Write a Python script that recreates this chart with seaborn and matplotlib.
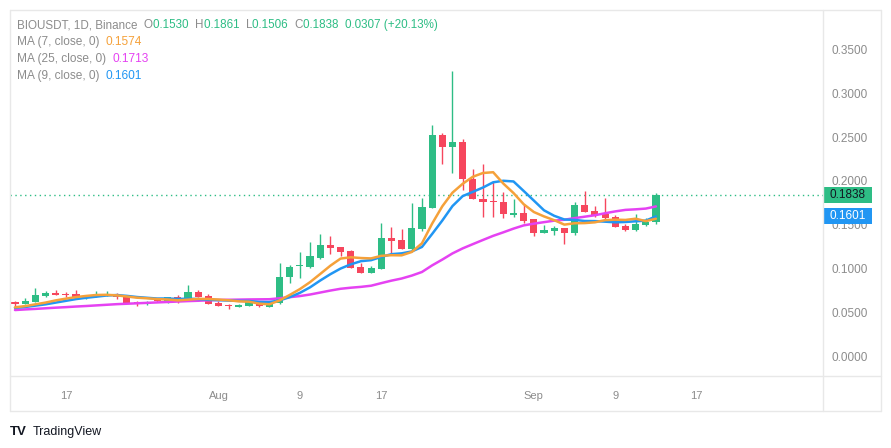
import numpy as np
import pandas as pd
import seaborn as sns
import matplotlib.pyplot as plt
import matplotlib.transforms as mtransforms
from matplotlib.lines import Line2D
from matplotlib.patches import Rectangle

# daily candles
dates = pd.date_range("2025-07-12", periods=64, freq="D")
opens = [0.0616, 0.0597, 0.0620, 0.0685, 0.0719, 0.0711, 0.0711, 0.0670, 0.0685, 0.0697,
         0.0711, 0.0685, 0.0616, 0.0597, 0.0640, 0.0609, 0.0670, 0.0639, 0.0731, 0.0685,
         0.0609, 0.0586, 0.0563, 0.0575, 0.0613, 0.0563, 0.0609, 0.0898, 0.1024, 0.1012,
         0.1115, 0.1267, 0.1244, 0.1199, 0.1016, 0.0951, 0.0997, 0.1347, 0.1324, 0.1225,
         0.1450, 0.1693, 0.2523, 0.2389, 0.2443, 0.2021, 0.1789, 0.1773, 0.1758, 0.1613,
         0.1632, 0.1560, 0.1400, 0.1430, 0.1461, 0.1408, 0.1724, 0.1655, 0.1621, 0.1587,
         0.1484, 0.1438, 0.1499, 0.1530]
highs = [0.0628, 0.0658, 0.0776, 0.0746, 0.0753, 0.0735, 0.0753, 0.0700, 0.0742, 0.0742,
         0.0720, 0.0690, 0.0628, 0.0625, 0.0655, 0.0673, 0.0696, 0.0810, 0.0753, 0.0708,
         0.0632, 0.0590, 0.0597, 0.0613, 0.0628, 0.0624, 0.1062, 0.1035, 0.1187, 0.1301,
         0.1393, 0.1370, 0.1250, 0.1210, 0.1058, 0.1027, 0.1522, 0.1473, 0.1450, 0.1745,
         0.1804, 0.2637, 0.2549, 0.3253, 0.2477, 0.2138, 0.2192, 0.1990, 0.1868, 0.1792,
         0.1732, 0.1565, 0.1495, 0.1484, 0.1465, 0.1754, 0.1884, 0.1712, 0.1804, 0.1606,
         0.1507, 0.1621, 0.1572, 0.1861]
lows = [0.0575, 0.0594, 0.0620, 0.0670, 0.0700, 0.0677, 0.0670, 0.0654, 0.0677, 0.0690,
        0.0647, 0.0601, 0.0575, 0.0586, 0.0615, 0.0609, 0.0609, 0.0639, 0.0677, 0.0594,
        0.0575, 0.0540, 0.0563, 0.0575, 0.0563, 0.0563, 0.0594, 0.0837, 0.0894, 0.1005,
        0.1107, 0.1168, 0.1145, 0.1008, 0.0951, 0.0951, 0.0997, 0.1172, 0.1225, 0.1210,
        0.1430, 0.1693, 0.2195, 0.2093, 0.1895, 0.1789, 0.1583, 0.1590, 0.1579, 0.1583,
        0.1515, 0.1366, 0.1400, 0.1385, 0.1282, 0.1385, 0.1647, 0.1590, 0.1541, 0.1476,
        0.1427, 0.1427, 0.1484, 0.1506]
closes = [0.0594, 0.0628, 0.0696, 0.0723, 0.0700, 0.0700, 0.0670, 0.0685, 0.0704, 0.0711,
          0.0677, 0.0609, 0.0605, 0.0620, 0.0625, 0.0673, 0.0639, 0.0731, 0.0677, 0.0594,
          0.0575, 0.0567, 0.0586, 0.0613, 0.0575, 0.0624, 0.0902, 0.1012, 0.1035, 0.1142,
          0.1267, 0.1237, 0.1191, 0.1008, 0.0951, 0.1005, 0.1347, 0.1317, 0.1225, 0.1461,
          0.1701, 0.2523, 0.2389, 0.2438, 0.2024, 0.1789, 0.1762, 0.1762, 0.1617, 0.1632,
          0.1545, 0.1400, 0.1438, 0.1461, 0.1408, 0.1724, 0.1647, 0.1606, 0.1575, 0.1476,
          0.1438, 0.1507, 0.1531, 0.1838]

# MA values at the start of the window (earlier closes are off-screen)
ma7_lead = [0.0556, 0.0570, 0.0590, 0.0610, 0.0635, 0.0655]
ma9_lead = [0.0550, 0.0560, 0.0575, 0.0590, 0.0610, 0.0630, 0.0650, 0.0665]
ma25_lead = [0.0525, 0.0532, 0.0538, 0.0545, 0.0552, 0.0558, 0.0565, 0.0571, 0.0578, 0.0585,
             0.0592, 0.0597, 0.0602, 0.0607, 0.0612, 0.0617, 0.0622, 0.0627, 0.0631, 0.0636,
             0.0640, 0.0642, 0.0644, 0.0646]

tick_dates = pd.to_datetime(["2025-07-17", "2025-08-01", "2025-08-09", "2025-08-17",
                             "2025-09-01", "2025-09-09", "2025-09-17"])
tick_labels = ["17", "Aug", "9", "17", "Sep", "9", "17"]
price_ticks = [0.0, 0.05, 0.10, 0.15, 0.20, 0.25, 0.30, 0.35]

symbol = "BIOUSDT, 1D, Binance"
ohlc_fields = [("O", "0.1530"), ("H", "0.1861"), ("L", "0.1506"), ("C", "0.1838")]
change = "0.0307 (+20.13%)"
ma_names = ["MA (7, close, 0)", "MA (25, close, 0)", "MA (9, close, 0)"]
ma_values = ["0.1574", "0.1713", "0.1601"]

UP = "#2ebd85"
DOWN = "#f6465d"
ORANGE = "#f5a13a"
PINK = "#e542f2"
BLUE = "#2196f3"
GREY = "#8c8c8c"
FRAME = "#e8e8e8"

df = pd.DataFrame({"date": dates, "open": opens, "high": highs, "low": lows, "close": closes})


def moving_avg(n, lead):
    ma = df["close"].rolling(n).mean()
    ma.iloc[:len(lead)] = lead
    return ma


df["ma7"] = moving_avg(7, ma7_lead)
df["ma9"] = moving_avg(9, ma9_lead)
df["ma25"] = moving_avg(25, ma25_lead)

sns.set_theme(style="white")
plt.rcParams["font.family"] = ["Liberation Sans", "DejaVu Sans"]

W, H = 891, 448
fig = plt.figure(figsize=(W / 100, H / 100), dpi=100)
fig.patch.set_facecolor("white")
ax = fig.add_axes([10 / W, 1 - 376 / H, 813 / W, 366 / H])
ax.set_facecolor("white")

# candles
up = df["close"] >= df["open"]
col = np.where(up, UP, DOWN)
ax.vlines(df["date"], df["low"], df["high"], colors=col, lw=1, zorder=2)
body_lo = np.minimum(df["open"], df["close"])
body_h = np.maximum((df["close"] - df["open"]).abs(), 0.0012)
ax.bar(df["date"], body_h, bottom=body_lo, width=0.7, color=col, lw=0, zorder=3)

# moving averages
for key, c in [("ma25", PINK), ("ma9", BLUE), ("ma7", ORANGE)]:
    sns.lineplot(data=df, x="date", y=key, color=c, lw=1.8, ax=ax, zorder=4)

ax.axhline(closes[-1], color=UP, ls=(0, (1, 2.5)), lw=1, zorder=1)

ax.set_xlim(dates[0] - pd.Timedelta(days=0.49), dates[0] + pd.Timedelta(days=79.42))
ax.set_ylim(-0.0228, 0.395)
ax.set_xlabel("")
ax.set_ylabel("")
ax.set_xticks(tick_dates)
ax.set_xticklabels(tick_labels)
ax.yaxis.tick_right()
ax.set_yticks(price_ticks)
ax.set_yticklabels([f"{v:.4f}" for v in price_ticks])
ax.tick_params(axis="x", length=0, pad=11, labelsize=8, labelcolor=GREY)
ax.tick_params(axis="y", length=0, pad=6, labelsize=8.5, labelcolor=GREY)
for s in ax.spines.values():
    s.set_visible(False)
ax.grid(False)

# price tags on the right scale
blend = mtransforms.blended_transform_factory(ax.transAxes, ax.transData)
bw = 48 / 813
bh = 16.5 / 366 * (0.395 + 0.0228)
for val, txt, fc, tc in [(closes[-1], "0.1838", UP, "#131722"), (0.1601, "0.1601", BLUE, "white")]:
    ax.add_patch(Rectangle((1.0012, val - bh / 2), bw, bh, transform=blend, color=fc,
                           clip_on=False, zorder=6, lw=0))
    ax.text(1.0012 + bw / 2, val, txt, transform=blend, ha="center", va="center",
            fontsize=8.5, color=tc, zorder=7, clip_on=False)


# frame
def fline(x0, y0, x1, y1):
    fig.add_artist(Line2D([x0 / W, x1 / W], [1 - y0 / H, 1 - y1 / H], color=FRAME, lw=1))


fline(10, 10, 881, 10)
fline(10, 411, 881, 411)
fline(10, 10, 10, 411)
fline(881, 10, 881, 411)
fline(10, 376, 881, 376)
fline(823, 10, 823, 411)


# legend rows (multi-colour text pieces chained left to right)
def text_row(y, parts, size):
    t = fig.text(17 / W, 1 - y / H, parts[0][0], color=parts[0][1], fontsize=size,
                 ha="left", va="center")
    for s, c in parts[1:]:
        t = ax.annotate(s, xy=(1, 0), xycoords=t, ha="left", va="bottom",
                        color=c, fontsize=size, annotation_clip=False)


row1 = [(symbol + "  ", GREY)]
for k, v in ohlc_fields:
    row1 += [(k, GREY), (v + "  ", UP)]
row1 += [(change, UP)]
text_row(25, row1, 8.4)
for i, (name, val, c) in enumerate(zip(ma_names, ma_values, [ORANGE, PINK, BLUE])):
    text_row(42 + 17 * i, [(name + "  ", GREY), (val, c)], 8.6)

# footer
fig.text(10 / W, 1 - 432 / H, "TV", fontsize=9.5, fontweight="heavy", color="#131722",
         ha="left", va="center")
fig.text(33 / W, 1 - 432 / H, "TradingView", fontsize=9, color="#131722",
         ha="left", va="center")

fig.savefig("out.png", dpi=100)
